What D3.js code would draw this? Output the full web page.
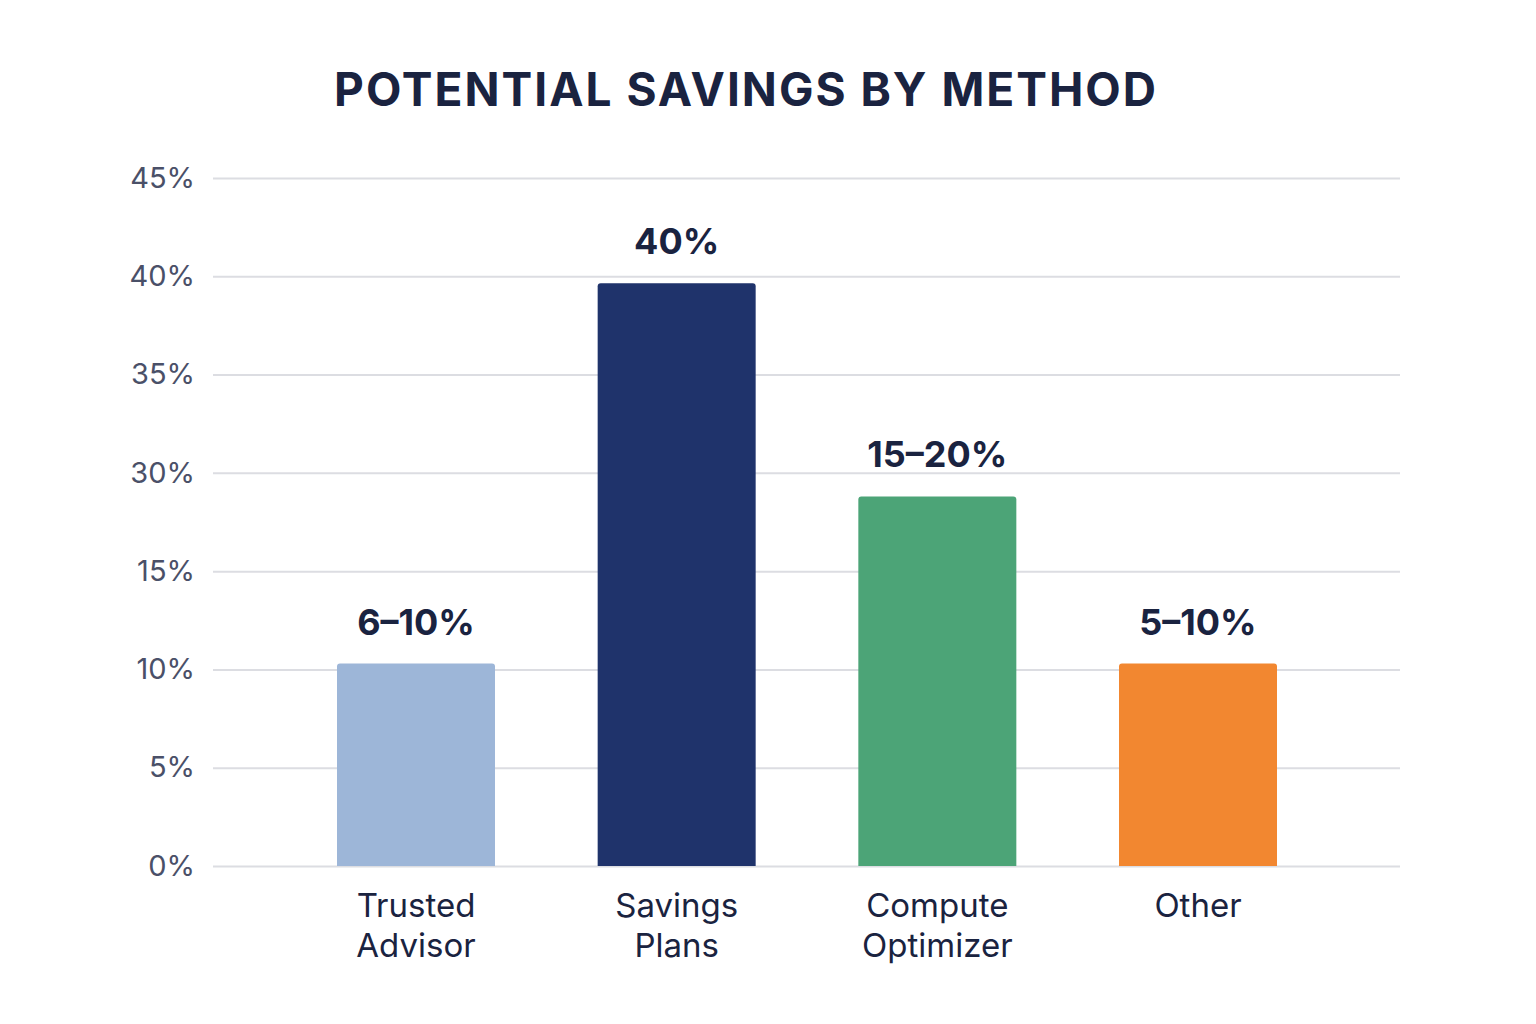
<!DOCTYPE html>
<html><head><meta charset="utf-8">
<script src="https://cdn.jsdelivr.net/npm/d3@7"></script>
<style>body{margin:0;background:#fff}</style></head>
<body><svg id="c" width="1536" height="1024"></svg>
<script>
const categories = [["Trusted","Advisor"],["Savings","Plans"],["Compute","Optimizer"],["Other"]];
const values = [10.3, 29.65, 18.8, 10.3]; // position on the (non-linear labelled) axis
const valueLabels = ["6–10%","40%","15–20%","5–10%"];
const colors = ["#9db6d8","#1f336b","#4ca477","#f28730"];
const tickValues = [0,5,10,15,20,25,30,35];
const tickLabels = ["0%","5%","10%","15%","30%","35%","40%","45%"];

const svg = d3.select("#c");
const y = d3.scaleLinear().domain([0,35]).range([866,178]);
const x = d3.scalePoint().domain(d3.range(categories.length)).range([416,1198]);
const bw = 158;

svg.append("text").attr("x",746).attr("y",106).attr("text-anchor","middle")
  .attr("font-family","Inter, 'Noto Sans', sans-serif").attr("font-weight",700)
  .attr("font-size",46).attr("letter-spacing",2).attr("fill","#1a2340")
  .text("POTENTIAL SAVINGS BY METHOD");

const ax = svg.append("g").attr("transform","translate(213,0)")
  .call(d3.axisLeft(y).tickValues(tickValues).tickSize(-1187).tickPadding(18)
    .tickFormat((d,i)=>tickLabels[i]));
ax.select(".domain").remove();
ax.selectAll(".tick line").attr("stroke","#dcdde2").attr("stroke-width",2);
ax.selectAll(".tick text").attr("font-family","Inter, 'Noto Sans', sans-serif")
  .attr("font-size",29).attr("fill","#4a5068");

const r=3;
svg.selectAll("path.bar").data(values).join("path").attr("class","bar")
  .attr("fill",(d,i)=>colors[i])
  .attr("d",(d,i)=>{const x0=x(i)-bw/2,x1=x(i)+bw/2,y0=y(d),yb=y(0);
    return `M${x0},${yb}V${y0+r}Q${x0},${y0} ${x0+r},${y0}H${x1-r}Q${x1},${y0} ${x1},${y0+r}V${yb}Z`;});

svg.selectAll("text.vl").data(values).join("text").attr("class","vl")
  .attr("x",(d,i)=>x(i)).attr("y",d=>y(d)-29).attr("text-anchor","middle")
  .attr("font-family","Inter, 'Noto Sans', sans-serif").attr("font-weight",700)
  .attr("font-size",36).attr("fill","#1a2340").text((d,i)=>valueLabels[i]);

const cl = svg.selectAll("text.cl").data(categories).join("text").attr("class","cl")
  .attr("text-anchor","middle").attr("font-family","Inter, 'Noto Sans', sans-serif")
  .attr("font-size",33).attr("fill","#1a2340");
cl.each(function(d,i){
  d3.select(this).selectAll("tspan").data(d).join("tspan")
    .attr("x",x(i)).attr("y",(t,j)=>917+j*40).text(t=>t);
});
</script></body></html>
